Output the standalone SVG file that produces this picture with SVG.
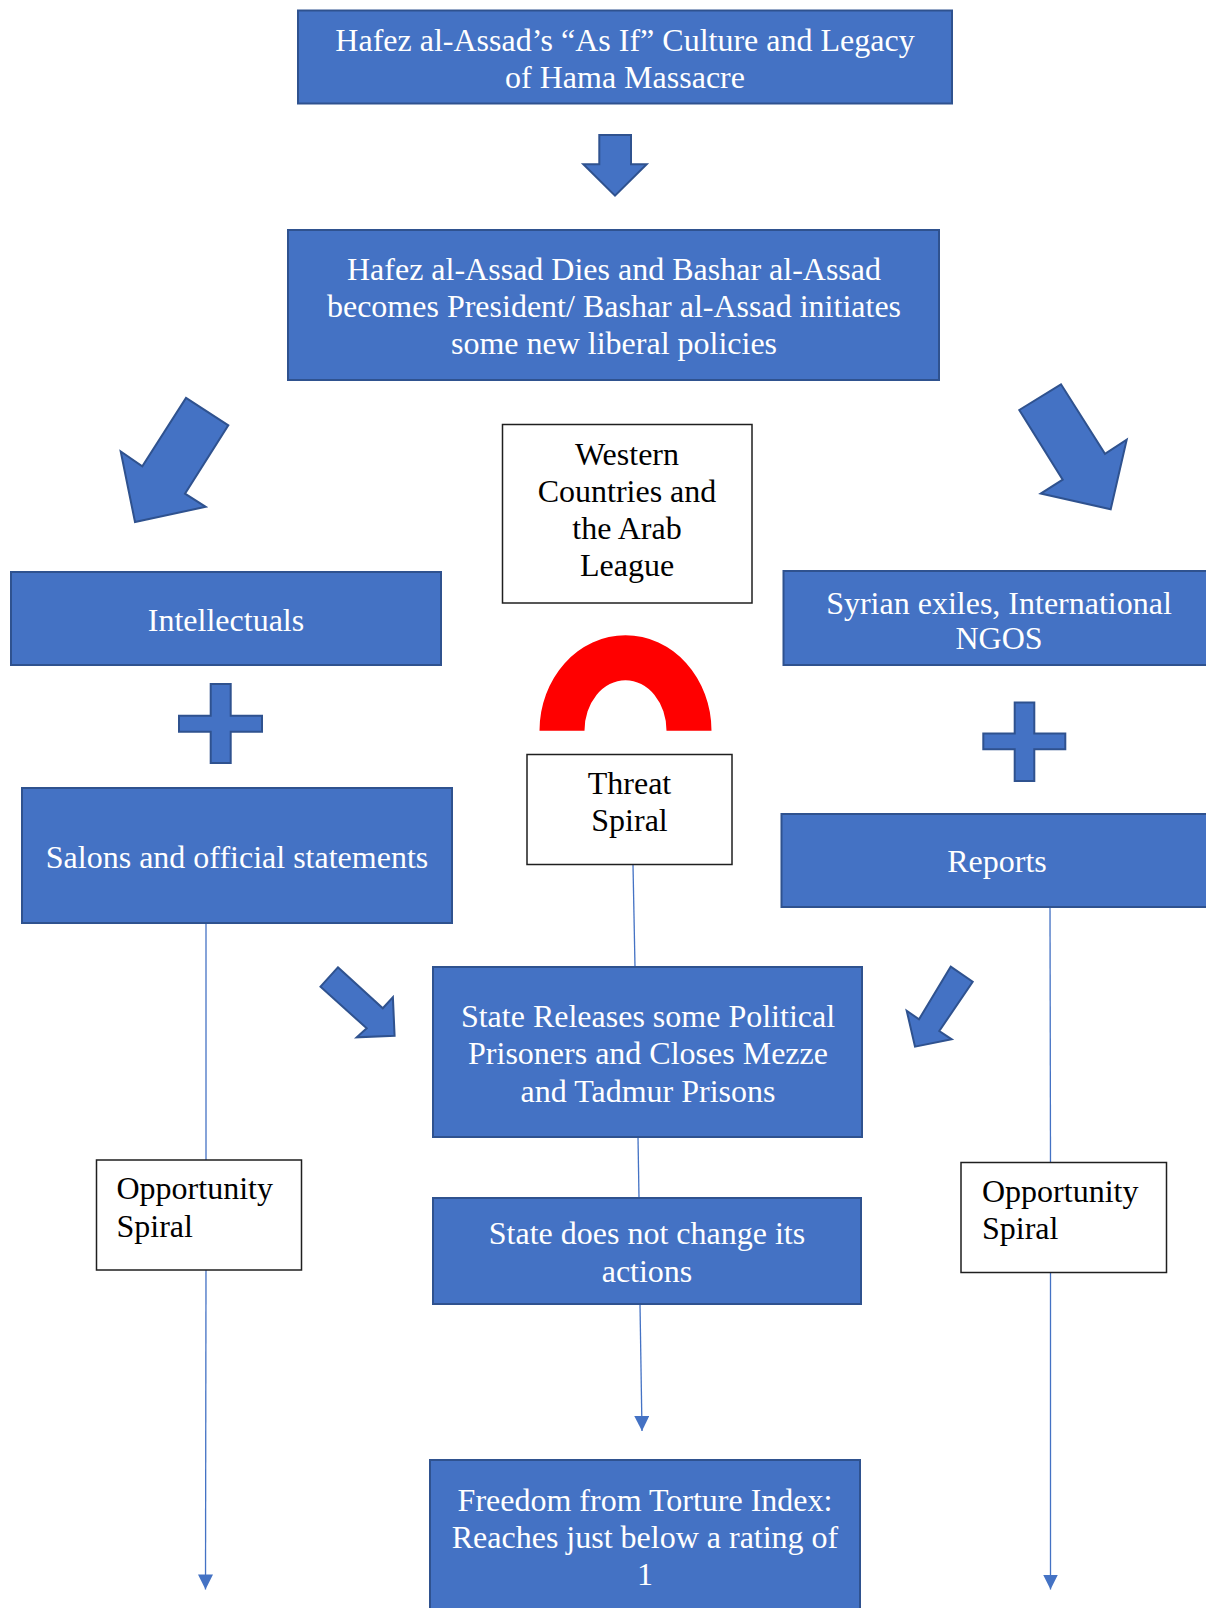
<svg xmlns="http://www.w3.org/2000/svg" width="1206" height="1608" viewBox="0 0 1206 1608">
  <defs>
    <style>
      .blue { fill: #4472C4; stroke: #2F528F; stroke-width: 2; }
      .plain { fill: #FFFFFF; stroke: #1F1F1F; stroke-width: 1.5; }
      .shape { fill: #4472C4; stroke: #2F528F; stroke-width: 2; stroke-linejoin: miter; }
      .t { font-family: "Liberation Serif", "Times New Roman", serif; font-size: 32px; }
      .w { fill: #FFFFFF; text-anchor: middle; }
      .k { fill: #000000; text-anchor: middle; }
      .kl { fill: #000000; text-anchor: start; }
      .conn { stroke: #4472C4; stroke-width: 1.3; fill: none; }
    </style>
    <marker id="tip" markerUnits="userSpaceOnUse" markerWidth="16" markerHeight="16" refX="15" refY="7.5" orient="auto">
      <path d="M0,0 L15,7.5 L0,15 Z" fill="#4472C4"/>
    </marker>
  </defs>
  <rect width="1206" height="1608" fill="#FFFFFF"/>

  <!-- connectors -->
  <g id="connectors">
    <line class="conn" x1="633" y1="865" x2="635" y2="967"/>
    <line class="conn" x1="638" y1="1137" x2="639" y2="1198"/>
    <line class="conn" x1="640" y1="1304.5" x2="642" y2="1431" marker-end="url(#tip)"/>
    <line class="conn" x1="206" y1="923.5" x2="206" y2="1160"/>
    <line class="conn" x1="206" y1="1270" x2="205.5" y2="1589.5" marker-end="url(#tip)"/>
    <line class="conn" x1="1050" y1="907" x2="1050.5" y2="1162.5"/>
    <line class="conn" x1="1050.5" y1="1272.5" x2="1050.5" y2="1589.5" marker-end="url(#tip)"/>
  </g>

  <!-- block arrows, plus signs and the arc -->
  <g id="block-arrows">
    <polygon class="shape" points="599.3,135 631,135 631,164.3 646.7,164.3 615,195.7 583.3,164.3 599.3,164.3"/>
    <polygon class="shape" points="186,397.9 228.3,425.4 185,493.6 205.7,506.8 135,522 120.7,451.4 142.3,466.4"/>
    <polygon class="shape" points="1061,384.3 1019.3,410 1062.7,479.6 1040.7,493.6 1110.7,509.3 1126.7,439.6 1105,453.9"/>
    <polygon class="shape" points="337.9,967.3 382.8,1008.3 392.9,997.3 394.6,1035.7 356.7,1037.3 366.7,1028.3 320.5,986.7"/>
    <polygon class="shape" points="950.7,966.7 972.7,981.7 939.3,1031 951.7,1039.3 915,1046.7 906.7,1010.7 919,1019.3"/>
  </g>
  <g id="plus-left">
    <path class="shape" d="M210.7,684 H230.7 V715.7 H262 V731.8 H230.7 V763 H210.7 V731.8 H179 V715.7 H210.7 Z"/>
  </g>
  <g id="plus-right">
    <path class="shape" d="M1014.7,702.5 H1034.3 V733.6 H1065.3 V749.3 H1034.3 V781 H1014.7 V749.3 H983.3 V733.6 H1014.7 Z"/>
  </g>
  <g id="threat-arc">
    <path d="M539.5,730.7 A86,95.5 0 0 1 711.5,730.7 L666.5,730.7 A41,50.5 0 0 0 584.5,730.7 Z" fill="#FF0000"/>
  </g>

  <!-- nodes -->
  <g id="legacy">
    <rect class="blue" x="298" y="10.5" width="654" height="93"/>
    <text class="t w" x="625" y="51">Hafez al-Assad’s “As If” Culture and Legacy</text>
    <text class="t w" x="625" y="88">of Hama Massacre</text>
  </g>
  <g id="succession">
    <rect class="blue" x="288" y="230" width="651" height="150"/>
    <text class="t w" x="614" y="280">Hafez al-Assad Dies and Bashar al-Assad</text>
    <text class="t w" x="614" y="317">becomes President/ Bashar al-Assad initiates</text>
    <text class="t w" x="614" y="354">some new liberal policies</text>
  </g>
  <g id="intellectuals">
    <rect class="blue" x="11" y="572" width="430" height="93"/>
    <text class="t w" x="226" y="631">Intellectuals</text>
  </g>
  <g id="salons">
    <rect class="blue" x="22" y="788" width="430" height="135"/>
    <text class="t w" x="237" y="868">Salons and official statements</text>
  </g>
  <g id="exiles">
    <rect class="blue" x="783.5" y="571" width="440" height="94"/>
    <text class="t w" x="999" y="614">Syrian exiles, International</text>
    <text class="t w" x="999" y="649">NGOS</text>
  </g>
  <g id="reports">
    <rect class="blue" x="781.5" y="814" width="440" height="93"/>
    <text class="t w" x="997" y="872">Reports</text>
  </g>
  <g id="western">
    <rect class="plain" x="502.5" y="424.5" width="249.5" height="178.5"/>
    <text class="t k" x="627" y="465">Western</text>
    <text class="t k" x="627" y="502">Countries and</text>
    <text class="t k" x="627" y="539">the Arab</text>
    <text class="t k" x="627" y="576">League</text>
  </g>
  <g id="threat-spiral">
    <rect class="plain" x="527" y="754.5" width="205" height="110"/>
    <text class="t k" x="629.5" y="794">Threat</text>
    <text class="t k" x="629.5" y="831">Spiral</text>
  </g>
  <g id="releases">
    <rect class="blue" x="433" y="967" width="429" height="170"/>
    <text class="t w" x="648" y="1027">State Releases some Political</text>
    <text class="t w" x="648" y="1064">Prisoners and Closes Mezze</text>
    <text class="t w" x="648" y="1102">and Tadmur Prisons</text>
  </g>
  <g id="no-change">
    <rect class="blue" x="433" y="1198" width="428" height="106"/>
    <text class="t w" x="647" y="1244">State does not change its</text>
    <text class="t w" x="647" y="1282">actions</text>
  </g>
  <g id="torture-index">
    <rect class="blue" x="430" y="1460" width="430" height="160"/>
    <text class="t w" x="645" y="1511">Freedom from Torture Index:</text>
    <text class="t w" x="645" y="1548">Reaches just below a rating of</text>
    <text class="t w" x="645" y="1585">1</text>
  </g>
  <g id="opportunity-left">
    <rect class="plain" x="96.5" y="1160" width="205" height="110"/>
    <text class="t kl" x="116.5" y="1199">Opportunity</text>
    <text class="t kl" x="116.5" y="1237">Spiral</text>
  </g>
  <g id="opportunity-right">
    <rect class="plain" x="961" y="1162.5" width="205.5" height="110"/>
    <text class="t kl" x="982" y="1202">Opportunity</text>
    <text class="t kl" x="982" y="1239">Spiral</text>
  </g>
</svg>
